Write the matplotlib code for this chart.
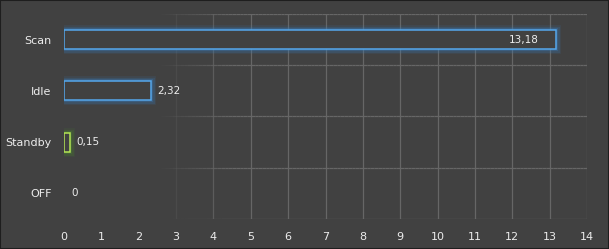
import matplotlib
matplotlib.use("Agg")
import matplotlib.pyplot as plt
import numpy as np
from matplotlib.collections import LineCollection
from matplotlib.patches import Rectangle

categories = ["OFF", "Standby", "Idle", "Scan"]
values = [0, 0.15, 2.32, 13.18]
value_labels = ["0", "0,15", "2,32", "13,18"]
edge_colors = ["#55a8ec", "#b5e655", "#55a8ec", "#55a8ec"]
glow_colors = ["#3a7fbf", "#4a8a30", "#3a7fbf", "#3a7fbf"]
xticks = list(range(0, 15))

BG = "#414141"
TXT = "#ececec"
GRID = (0x66/255, 0x66/255, 0x66/255)

fig = plt.figure(figsize=(6.09, 2.49), dpi=100, facecolor=BG)
ax = fig.add_axes([64/609, 1-219/249, (587-64)/609, (219-14)/249])
ax.set_facecolor(BG)
ax.set_xlim(0, 14)
ax.set_ylim(-0.5, 3.5)
for s in ax.spines.values():
    s.set_visible(False)

def fade(x):
    return float(np.clip((x - 2.5) / 2.0, 0, 1))

# vertical grid
for xv in xticks:
    a = fade(xv)
    if a > 0:
        ax.plot([xv, xv], [-0.5, 3.5], color=GRID, lw=0.9, alpha=a, zorder=1)
# horizontal grid (faded segments)
xs = np.linspace(0, 14, 141)
for yh in [-0.5, 0.5, 1.5, 2.5, 3.5]:
    segs = [[(xs[i], yh), (xs[i+1], yh)] for i in range(len(xs)-1)]
    alphas = [fade((xs[i]+xs[i+1])/2) for i in range(len(xs)-1)]
    cols = [(*GRID, a) for a in alphas]
    ax.add_collection(LineCollection(segs, colors=cols, linewidths=0.9, zorder=1))

h = 0.37
for i, (v, lab) in enumerate(zip(values, value_labels)):
    if v > 0:
        for lw, al in [(7, 0.12), (5, 0.18), (3, 0.3)]:
            ax.add_patch(Rectangle((0, i - h/2), v, h, facecolor="none",
                                   edgecolor=glow_colors[i], lw=lw, alpha=al, zorder=2))
        ax.add_patch(Rectangle((0, i - h/2), v, h, facecolor=BG,
                               edgecolor=edge_colors[i], lw=1.1, zorder=3))
    if v > 10:
        ax.annotate(lab, (v, i), xytext=(-13, 0), textcoords="offset points",
                    ha="right", va="center", color=TXT, fontsize=7.5, zorder=4)
    else:
        off = 5 if v > 0 else 5
        ax.annotate(lab, (v, i), xytext=(off, 0), textcoords="offset points",
                    ha="left", va="center", color=TXT, fontsize=7.5, zorder=4)

ax.set_xticks(xticks)
ax.set_xticklabels([str(t) for t in xticks])
ax.set_yticks(range(len(categories)))
ax.set_yticklabels(categories)
ax.tick_params(axis="x", length=0, pad=9, colors=TXT, labelsize=8)
ax.tick_params(axis="y", length=0, pad=9, colors=TXT, labelsize=8)

fig.add_artist(Rectangle((0, 0), 1, 1, transform=fig.transFigure, facecolor="none",
                         edgecolor="#1e1e1e", lw=1.5))

fig.savefig("out.png", dpi=100, facecolor=BG)
